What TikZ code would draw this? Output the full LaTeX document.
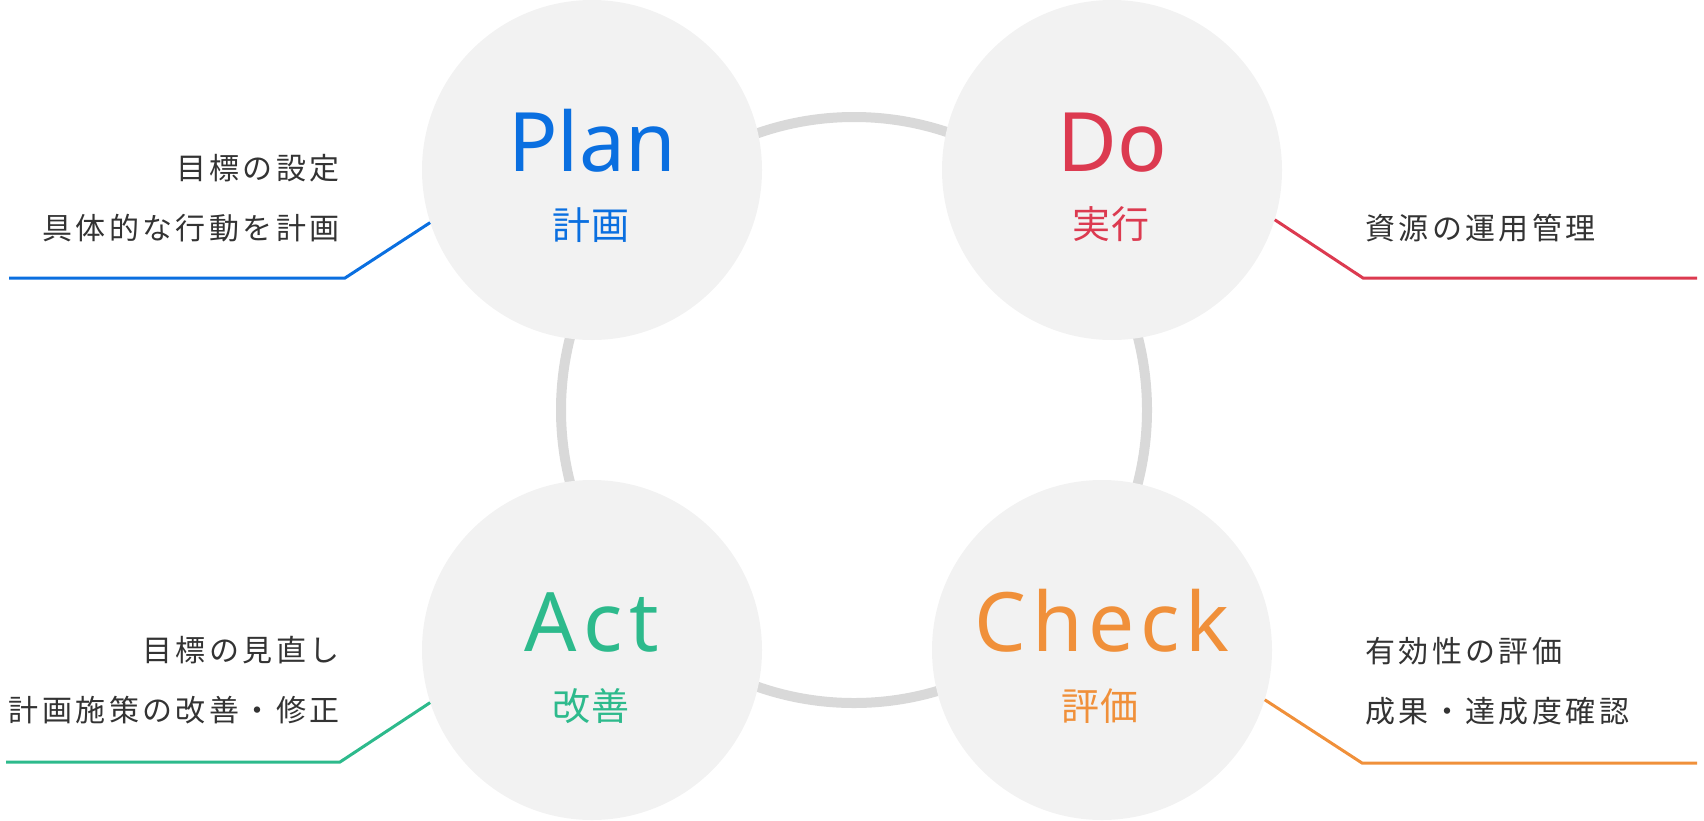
\documentclass[tikz,border=0pt]{standalone}
\usepackage{fontspec}
\setmainfont{Noto Sans CJK JP}
\newfontfamily\jpbody[LetterSpace=11.5]{Noto Sans CJK JP}
\newfontfamily\jpsub[LetterSpace=5]{Noto Sans CJK JP}
\newfontfamily\bigfont{Noto Sans}
\definecolor{cplan}{HTML}{0A6FE0}
\definecolor{cdo}{HTML}{DC3A50}
\definecolor{cact}{HTML}{2DBA8C}
\definecolor{ccheck}{HTML}{F0903A}
\definecolor{cfill}{HTML}{F2F2F2}
\definecolor{cring}{HTML}{D9D9D9}
\definecolor{ctext}{HTML}{333333}
\tikzset{
  phase/.style={circle, fill=cfill, minimum size=340pt, inner sep=0pt},
  ringline/.style={draw=cring, line width=10pt},
  biglabel/.style={anchor=base, inner sep=0pt, font=\bigfont\fontsize{82}{90}\selectfont},
  sublabel/.style={anchor=center, inner sep=0pt, font=\jpsub\fontsize{38}{44}\selectfont},
  bodyR/.style={anchor=east, inner sep=0pt, text=ctext, font=\jpbody\fontsize{30}{36}\selectfont},
  bodyL/.style={anchor=west, inner sep=0pt, text=ctext, font=\jpbody\fontsize{30}{36}\selectfont},
  leader/.style={line width=3pt},
}
\begin{document}
\begin{tikzpicture}[x=1pt,y=-1pt]
\useasboundingbox (0,0) rectangle (1704,820);
% ring
\node[circle, ringline, minimum size=586pt, inner sep=0pt] (ring) at (854,410) {};
% circles
\node[phase] (plan) at (592,170) {};
\node[phase] (do) at (1112,170) {};
\node[phase] (act) at (592,650) {};
\node[phase] (check) at (1102,650) {};
% big labels
\node[biglabel, text=cplan] (planT) at (592,171) {Plan};
\node[biglabel, text=cdo] (doT) at (1112,171) {Do};
\node[biglabel, text=cact] (actT) at (592,651) {\addfontfeature{LetterSpace=8}Act};
\node[biglabel, text=ccheck] (checkT) at (1102,651) {\addfontfeature{LetterSpace=7}Check};
% sub labels
\node[sublabel, text=cplan] (planS) at (591,225) {計画};
\node[sublabel, text=cdo] (doS) at (1111,224) {実行};
\node[sublabel, text=cact] (actS) at (591,706) {改善};
\node[sublabel, text=ccheck] (checkS) at (1100,706) {評価};
% body texts
\node[bodyR] (p1) at (340,168) {目標の設定};
\node[bodyR] (p2) at (340,228) {具体的な行動を計画};
\node[bodyL] (d1) at (1365,228) {資源の運用管理};
\node[bodyR] (a1) at (340,650) {目標の見直し};
\node[bodyR] (a2) at (340,710) {計画施策の改善・修正};
\node[bodyL] (c1) at (1365,651) {有効性の評価};
\node[bodyL] (c2) at (1365,711) {成果・達成度確認};
% leaders
\coordinate (pe) at (9,278);
\coordinate (de) at (1697,278);
\coordinate (ae) at (6,762);
\coordinate (ce) at (1697,763);
\draw[leader, cplan] (plan.198) -- (345,278) -- (pe);
\draw[leader, cdo] (do.343) -- (1363,278) -- (de);
\draw[leader, cact] (act.198) -- (340,762) -- (ae);
\draw[leader, ccheck] (check.343) -- (1362,763) -- (ce);
\end{tikzpicture}
\end{document}
